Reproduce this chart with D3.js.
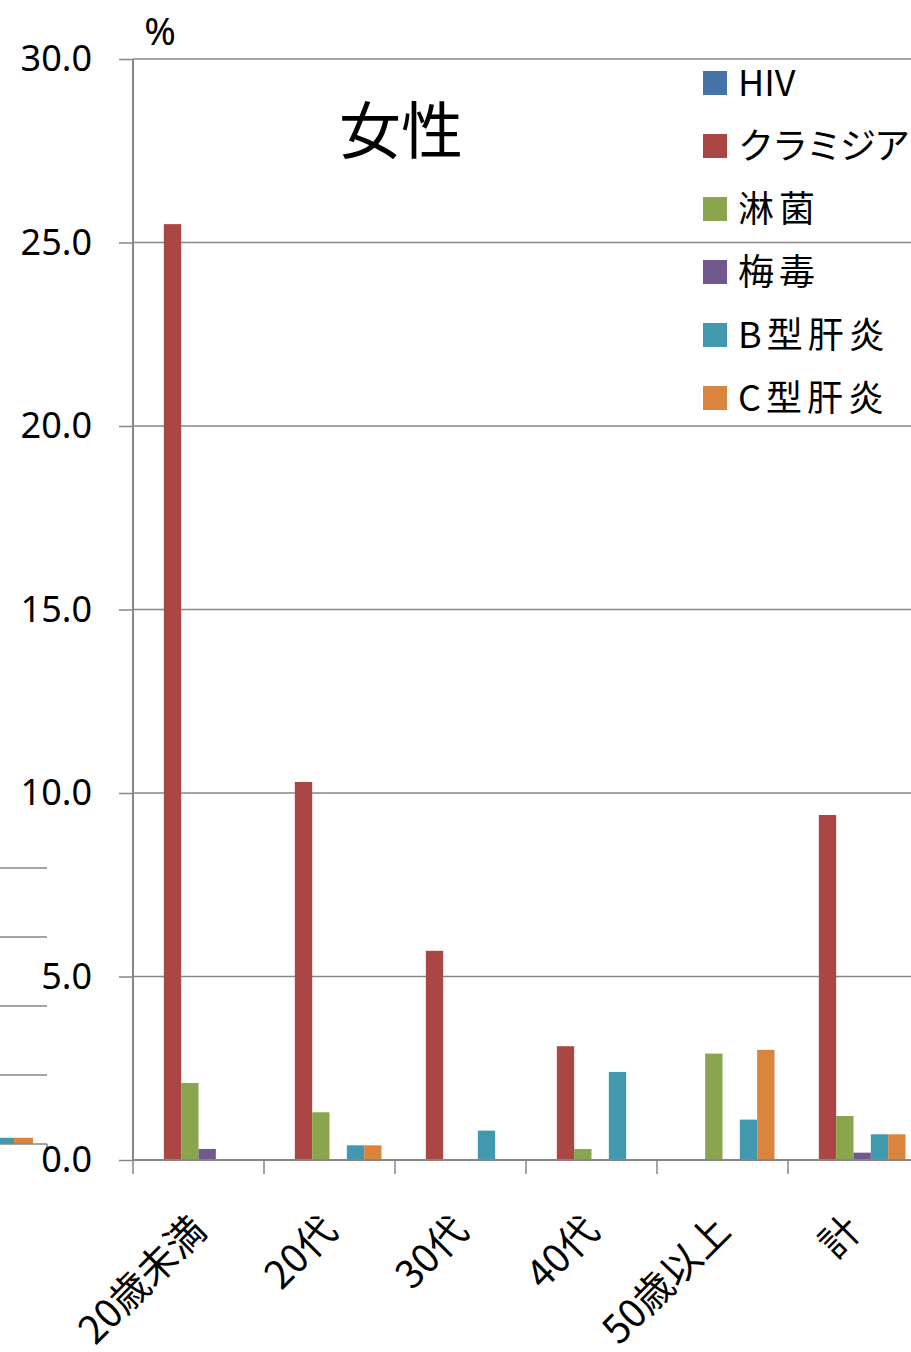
<!DOCTYPE html>
<html>
<head>
<meta charset="utf-8">
<script src="https://cdn.jsdelivr.net/npm/d3@7"></script>
<style>
  html, body { margin: 0; padding: 0; background: #fff; }
  svg { display: block; }
  text { font-family: "Noto Sans", "Noto Sans CJK JP", sans-serif; fill: #000; }
  .jp { font-family: "Noto Sans CJK JP", "Noto Sans", sans-serif; }
</style>
</head>
<body>
<svg id="chart" width="911" height="1352"></svg>
<script>
// ---- data ----
const categories = ["20歳未満", "20代", "30代", "40代", "50歳以上", "計"];
const series = ["HIV", "クラミジア", "淋菌", "梅毒", "B型肝炎", "C型肝炎"];
const colors = ["#4572A7", "#AA4643", "#89A54E", "#71588F", "#4198AF", "#DB843D"];
const hiv       = [0,    0,    0,   0,   0,   0];
const chlamydia = [25.5, 10.3, 5.7, 3.1, 0,   9.4];
const gonorrhea = [2.1,  1.3,  0,   0.3, 2.9, 1.2];
const syphilis  = [0.3,  0,    0,   0,   0,   0.2];
const hepB      = [0,    0.4,  0.8, 2.4, 1.1, 0.7];
const hepC      = [0,    0.4,  0,   0,   3.0, 0.7];
const seriesValues = [hiv, chlamydia, gonorrhea, syphilis, hepB, hepC];
const yTicks = [0, 5, 10, 15, 20, 25, 30];
const title = "女性";
const unitLabel = "%";
// fragment of a neighbouring chart visible at the left edge
const fragGrid = [1, 2, 3, 4];
const fragSeries = ["B型肝炎", "C型肝炎"];
const fragValues = [0.09, 0.09];

// ---- layout ----
const svg = d3.select("#chart");
const left = 133, bandW = 131, y0 = 1160, yTop = 59;
const x = d3.scaleBand().domain(categories).range([left, left + bandW * categories.length]).padding(0);
const xs = d3.scaleBand().domain(series).range([13.5, bandW - 13.5]).padding(0);
const y = d3.scaleLinear().domain([0, 30]).range([y0, yTop]);
const grey = "#868686";

// gridlines
svg.append("g").selectAll("line").data(yTicks.filter(d => d > 0)).join("line")
  .attr("x1", left).attr("x2", 911)
  .attr("y1", d => y(d)).attr("y2", d => y(d))
  .attr("stroke", grey).attr("stroke-width", 1.5);

// left fragment
const fy = d3.scaleLinear().domain([0, 4]).range([1144, 1144 - 69 * 4]);
const fx = d3.scaleBand().domain(fragSeries).range([-5, 33]);
const frag = svg.append("g");
frag.selectAll("line").data(fragGrid).join("line")
  .attr("x1", 0).attr("x2", 47).attr("y1", d => fy(d)).attr("y2", d => fy(d))
  .attr("stroke", grey).attr("stroke-width", 1.5);
frag.selectAll("rect").data(fragValues).join("rect")
  .attr("x", (d, i) => fx(fragSeries[i])).attr("width", fx.bandwidth())
  .attr("y", d => fy(d)).attr("height", d => fy(0) - fy(d))
  .attr("fill", (d, i) => colors[4 + i]);
frag.append("line").attr("x1", 0).attr("x2", 47).attr("y1", fy(0)).attr("y2", fy(0))
  .attr("stroke", grey).attr("stroke-width", 1.5);
frag.append("line").attr("x1", 47).attr("x2", 47).attr("y1", fy(0)).attr("y2", fy(0) + 8)
  .attr("stroke", grey).attr("stroke-width", 1.5);

// bars
const groups = svg.append("g").selectAll("g").data(categories).join("g")
  .attr("transform", d => `translate(${x(d)},0)`);
groups.selectAll("rect").data((c, ci) => series.map((s, si) => ({ s, si, v: seriesValues[si][ci] })))
  .join("rect")
  .attr("x", d => xs(d.s)).attr("width", xs.bandwidth())
  .attr("y", d => y(d.v)).attr("height", d => y(0) - y(d.v))
  .attr("fill", d => colors[d.si]);

// y axis
const yAxis = d3.axisLeft(y).tickValues(yTicks).tickFormat(d3.format(".1f")).tickSize(14).tickPadding(27);
const gy = svg.append("g").attr("transform", `translate(${left},0)`).call(yAxis);
gy.select(".domain").attr("stroke", grey).attr("stroke-width", 2).attr("d", `M0,${yTop}V${y0}`);
gy.selectAll(".tick line").attr("stroke", grey).attr("stroke-width", 1.5);
gy.selectAll(".tick text").attr("font-size", 36).attr("font-family", "Noto Sans").attr("fill", "#000");

// x axis
const xAxis = d3.axisBottom(x).tickSize(0).tickFormat("");
const gx = svg.append("g").attr("transform", `translate(0,${y0})`).call(xAxis);
gx.select(".domain").attr("stroke", grey).attr("stroke-width", 2).attr("d", `M${left},0H911`);
gx.selectAll(".bound").data(categories).join("line").attr("class", "bound")
  .attr("x1", d => x(d)).attr("x2", d => x(d)).attr("y1", 0).attr("y2", 14)
  .attr("stroke", grey).attr("stroke-width", 1.5);
gx.selectAll(".lbl").data(categories).join("text").attr("class", "lbl jp")
  .attr("text-anchor", "end")
  .attr("font-size", 39)
  .attr("transform", d => `translate(${x(d) + bandW / 2 + 10},${73}) rotate(-45)`)
  .text(d => d);

// title and unit
svg.append("text").attr("class", "jp").attr("x", 401).attr("y", 154)
  .attr("text-anchor", "middle").attr("font-size", 62).text(title);
svg.append("text").attr("x", 160).attr("y", 45)
  .attr("text-anchor", "middle").attr("font-size", 38).text(unitLabel);

// legend
const leg = svg.append("g").selectAll("g").data(series).join("g")
  .attr("transform", (d, i) => `translate(703,${83 + i * 63})`);
leg.append("rect").attr("x", 0).attr("y", -12).attr("width", 24).attr("height", 24)
  .attr("fill", (d, i) => colors[i]);
leg.append("text").attr("class", "jp").attr("x", 35).attr("y", 0).attr("dy", "0.35em")
  .attr("font-size", 36)
  .attr("letter-spacing", d => /[\u30A0-\u30FF]/.test(d) ? -2 : (/[\u4E00-\u9FFF]/.test(d) ? 5 : 0))
  .text(d => d);
</script>
</body>
</html>
